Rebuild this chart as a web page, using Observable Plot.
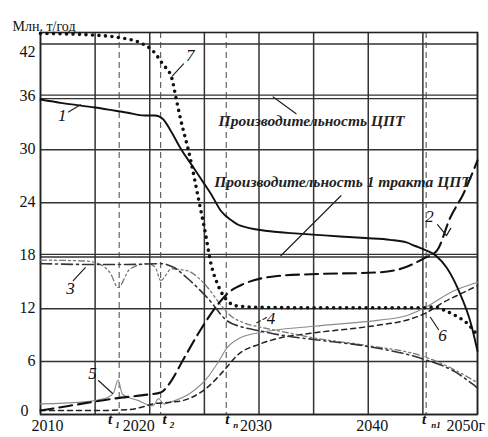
<!DOCTYPE html>
<html><head><meta charset="utf-8">
<script src="https://cdn.jsdelivr.net/npm/d3@7"></script>
<script src="https://cdn.jsdelivr.net/npm/@observablehq/plot@0.6"></script>
<style>body{margin:0;background:#fff}</style>
</head><body><div id="chart"></div>
<script>
// ---- data ----
const gridYears = [2010, 2015, 2020, 2025, 2030, 2035, 2040, 2045, 2050];
const gridValues = [0, 6, 12, 24, 30, 42];
const capacityLines = [36.2, 35.8, 18.15, 17.85];
const yTickValues = [6, 12, 18, 24, 30, 36];
const yTopTick = [42];
const yBottomTick = [0];
const xTickYears = [2010, 2020, 2030, 2040, 2050];
const xTickLabels = ["2010", "2020", "2030", "2040", "2050г"];
const tYears = [2017.2, 2021.0, 2027.0, 2045.3];
const tSubs = ["1", "2", "n", "n1"];

const curve1 = [[2010,35.7],[2012,35.3],[2015,34.8],[2018,34.2],[2019.5,33.9],[2020.5,33.9],[2021.2,33.5],[2022,32],[2022.8,30.2],[2024,28],[2024.8,26.5],[2025.7,24.8],[2026.5,23.1],[2027.5,22],[2028.3,21.4],[2030.8,20.8],[2033.6,20.5],[2036,20.3],[2039.7,20.0],[2042,19.8],[2043.5,19.5],[2044.3,19.1],[2045.3,18.6],[2046.2,18.0],[2047.2,16.6],[2048.4,13.7],[2049.4,10.3],[2050,7.2]];
const curve2 = [[2010,0.45],[2012.7,1.0],[2016.7,1.8],[2019.4,2.2],[2021,2.5],[2021.8,3.5],[2023.1,6.3],[2024.6,9.5],[2026,12.1],[2027.1,13.7],[2028.6,14.8],[2030.1,15.4],[2031.7,15.7],[2034.7,15.9],[2040.8,16.1],[2043.2,16.6],[2045.1,17.7],[2046.3,18.6],[2047.5,22.3],[2048.7,25],[2050,28.8]];
const curve3 = [[2010,17.1],[2015,17.0],[2018,17.0],[2021,17.1],[2022.3,16.6],[2023.4,15.5],[2025.3,13.2],[2027.1,10.6],[2028.5,9.9],[2030,9.5],[2032,9.0],[2035,8.5],[2040,7.7],[2045,6.3],[2048,4.8],[2050,3.0]];
const curve4 = [[2010,17.5],[2014,17.4],[2015.3,17.1],[2016.4,16.0],[2017.1,14.4],[2018.2,16.5],[2019.8,17.1],[2020.5,16.7],[2021,15.2],[2022,16.5],[2023.4,16.3],[2025.3,14.4],[2026.5,12.4],[2027.4,11.2],[2028.6,10.4],[2030.1,9.9],[2031.7,9.5],[2035.4,8.6],[2040,7.8],[2045,6.6],[2048,5.0],[2050,3.6]];
const curve5 = [[2010,1.2],[2013.7,1.4],[2016.1,1.9],[2016.7,2.5],[2017.1,3.9],[2017.5,2.3],[2018.9,1.6],[2020.3,1.0],[2020.8,1.8],[2021.3,1.2],[2021.9,1.4],[2023.7,2.4],[2025.3,4.2],[2026.2,5.8],[2027.1,7.6],[2028.3,8.7],[2030.1,9.3],[2035,10.0],[2041,10.7],[2043.2,11.1],[2045,12.0],[2047.8,14.0],[2050,15.0]];
const curve6 = [[2010,0.45],[2015,0.45],[2018,0.55],[2019.5,0.9],[2020.3,1.2],[2022,1.4],[2023.1,1.6],[2025.3,3.1],[2026.8,5.0],[2028,6.7],[2030.1,8.0],[2032,8.7],[2034.7,9.2],[2040.8,10.1],[2043.2,10.6],[2045.1,11.4],[2047,12.8],[2048.5,13.7],[2050,14.6]];
const curve7 = [[2010,43.2],[2015,43.0],[2017.3,42.7],[2019.2,42.1],[2020.3,41.2],[2021.2,39.7],[2022,38.2],[2022.4,35.9],[2022.8,33.6],[2023.7,29.1],[2024.5,24.2],[2025.1,20.5],[2025.6,17.1],[2026.2,14.8],[2027.1,12.9],[2028,12.3],[2030,12.15],[2035,12.1],[2040,12.1],[2045,12.1],[2046,12.2],[2047,11.8],[2048,11.2],[2049,10.4],[2049.8,9.3]];

const curveLabels = [
  {t:"1", x:2012.0, y:33.9}, {t:"7", x:2023.7, y:40.7}, {t:"2", x:2045.6, y:22.4},
  {t:"3", x:2012.75, y:14.3}, {t:"4", x:2031.1, y:10.9}, {t:"5", x:2014.76, y:4.6},
  {t:"6", x:2046.8, y:8.95}
];
const leaders = [
  [[2012.56,34.3],[2013.66,35.1]],
  [[2023.09,39.75],[2022.08,38.39]],
  [[2046.34,21.52],[2047.16,20.27],[2047.55,21.1]],
  [[2013.0,15.18],[2014.1,16.65]],
  [[2015.3,3.85],[2016.6,2.38]],
  [[2046.43,9.63],[2045.7,11.0]],
  [[2031.3,36.0],[2033.4,34.1]],
  [[2032.0,18.0],[2037.5,24.8]]
];
const leader4 = [[2029.8,10.4],[2030.7,11.0]];
const capLabels = [
  {t:"Производительность ЦПТ", x:2026.3, y:33.3},
  {t:"Производительность 1 тракта ЦПТ", x:2025.9, y:26.3}
];

// ---- chart ----
const serif = "'Liberation Serif', 'DejaVu Serif', serif";
const lineOpts = (extra) => Object.assign({x: d => d[0], y: d => d[1], curve: "monotone-x", fill: "none"}, extra);
const xDx = [7, -11, -3, 4, -31];
const xAnchor = ["middle", "middle", "middle", "middle", "start"];
const tDx = [-9, 4, 1, -2];
const sDx = [-4, 9, 7, 5];

const chart = Plot.plot({
  width: 488, height: 437,
  marginLeft: 40, marginRight: 11, marginTop: 32, marginBottom: 23,
  x: {domain: [2010, 2050], axis: null},
  y: {domain: [0, 43.3], axis: null},
  style: {fontFamily: serif, background: "white", overflow: "visible"},
  marks: [
    Plot.ruleX(gridYears, {stroke: "#333", strokeWidth: 1.5}),
    Plot.ruleY(gridValues, {stroke: "#333", strokeWidth: 1.5}),
    Plot.ruleY(capacityLines, {stroke: "#333", strokeWidth: 1.4}),
    Plot.ruleX(tYears, {stroke: "#444", strokeWidth: 1, strokeDasharray: "6,4"}),
    Plot.frame({stroke: "#222", strokeWidth: 1.6}),
    Plot.line(curve5, lineOpts({stroke: "#8a8a8a", strokeWidth: 1.1})),
    Plot.line(curve6, lineOpts({stroke: "#222", strokeWidth: 1.5, strokeDasharray: "5,4"})),
    Plot.line(curve4, lineOpts({stroke: "#777", strokeWidth: 1.3, strokeDasharray: "6,3,2,3,2,3"})),
    Plot.line(curve3, lineOpts({stroke: "#333", strokeWidth: 1.6, strokeDasharray: "11,4,2,4"})),
    Plot.line(curve2, lineOpts({stroke: "#111", strokeWidth: 2.1, strokeDasharray: "13,6"})),
    Plot.line(curve1, lineOpts({stroke: "#111", strokeWidth: 1.9})),
    Plot.line(curve7, lineOpts({stroke: "#111", strokeWidth: 3.6, strokeDasharray: "0,6.5", strokeLinecap: "round"})),
    ...leaders.map(l => Plot.line(l, {x: d => d[0], y: d => d[1], stroke: "#222", strokeWidth: 1.2})),
    Plot.line(leader4, {x: d => d[0], y: d => d[1], stroke: "#333", strokeWidth: 1.2, strokeDasharray: "4,3"}),
    Plot.text(curveLabels, {x: "x", y: "y", text: "t", fontSize: 17, fontStyle: "italic", fill: "#111"}),
    Plot.text(capLabels, {x: "x", y: "y", text: "t", textAnchor: "start", fontSize: 15.5, fontStyle: "italic", fontWeight: "bold", fill: "#222"}),
    Plot.text(yTickValues, {y: d => d, text: d => String(d), frameAnchor: "left", dx: -5, dy: -1, textAnchor: "end", fontSize: 16, fill: "#111"}),
    Plot.text(yTopTick, {y: d => d, text: d => String(d), frameAnchor: "left", dx: -5, dy: 8, textAnchor: "end", fontSize: 16, fill: "#111"}),
    Plot.text(yBottomTick, {y: d => d, text: d => String(d), frameAnchor: "left", dx: -12, dy: -4, textAnchor: "end", fontSize: 16, fill: "#111"}),
    ...xTickYears.map((yr, i) => Plot.text([yr], {x: d => d, text: () => xTickLabels[i], frameAnchor: "bottom", dy: 16, dx: xDx[i], textAnchor: xAnchor[i], fontSize: 16, fill: "#111"})),
    ...tYears.map((yr, i) => Plot.text([yr], {x: d => d, text: () => "t", frameAnchor: "bottom", dy: 9, dx: tDx[i], fontSize: 15, fontStyle: "italic", fontWeight: "bold", fill: "#111"})),
    ...tYears.map((yr, i) => Plot.text([yr], {x: d => d, text: () => tSubs[i], frameAnchor: "bottom", dy: 13, dx: sDx[i], textAnchor: "start", fontSize: 9, fontStyle: "italic", fontWeight: "bold", fill: "#111"})),
    Plot.text(["Млн. т/год"], {text: d => d, frameAnchor: "top-left", dx: -28, dy: -11, textAnchor: "start", fontSize: 14, fill: "#111"})
  ]
});
document.getElementById("chart").appendChild(chart);
</script>
</body></html>
